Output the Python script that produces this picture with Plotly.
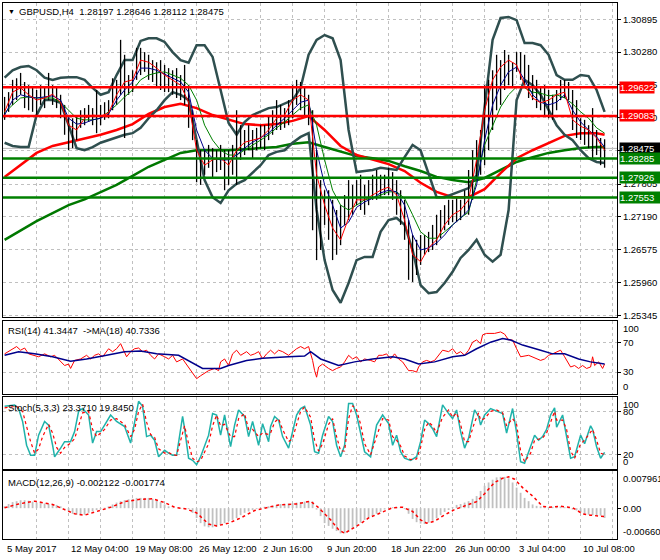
import plotly.graph_objects as go

# ---------------- data ----------------
bar_idx = list(range(0, 301, 2))
bars_hi = [1.2944,1.2953,1.2976,1.2979,1.2989,1.2972,1.2966,1.2961,1.2957,1.2966,
           1.2961,1.2989,1.2966,1.2961,1.2948,1.2929,1.2910,1.2904,1.2910,1.2919,
           1.2923,1.2929,1.2923,1.2957,1.2929,1.2934,1.2938,1.2979,1.2976,1.3051,
           1.3023,1.2985,1.2994,1.3036,1.3036,1.3028,1.3023,1.3013,1.3009,1.3013,
           1.3004,1.2998,1.2994,1.2998,1.2985,1.3004,1.2966,1.2919,1.2863,1.2844,
           1.2844,1.2854,1.2848,1.2844,1.2854,1.2844,1.2844,1.2854,1.2919,1.2891,
           1.2882,1.2891,1.2882,1.2886,1.2891,1.2891,1.2910,1.2919,1.2938,1.2929,
           1.2923,1.2938,1.2966,1.2976,1.2972,1.2961,1.2948,1.2919,1.2844,1.2788,
           1.2769,1.2769,1.2751,1.2732,1.2741,1.2760,1.2788,1.2779,1.2788,1.2798,
           1.2779,1.2788,1.2798,1.2807,1.2798,1.2798,1.2811,1.2803,1.2788,1.2769,
           1.2751,1.2713,1.2685,1.2676,1.2685,1.2685,1.2691,1.2704,1.2723,1.2732,
           1.2741,1.2751,1.2751,1.2754,1.2751,1.2769,1.2807,1.2844,1.2863,1.2882,
           1.2966,1.2976,1.2994,1.3023,1.3013,1.3032,1.3023,1.3009,1.3028,1.3028,
           1.3023,1.3004,1.2985,1.2976,1.2961,1.2966,1.2957,1.2948,1.2957,1.2976,
           1.2976,1.2972,1.2957,1.2938,1.2904,1.2901,1.2891,1.2923,1.2882,1.2867,
           1.28646]
bars_lo = [1.2901,1.2916,1.2929,1.2938,1.2948,1.2923,1.2919,1.2916,1.2910,1.2929,
           1.2923,1.2938,1.2929,1.2923,1.2904,1.2873,1.2844,1.2848,1.2863,1.2886,
           1.2891,1.2897,1.2891,1.2876,1.2891,1.2901,1.2904,1.2919,1.2929,1.2948,
           1.2867,1.2948,1.2953,1.2976,1.2985,1.2991,1.2976,1.2972,1.2961,1.2957,
           1.2953,1.2953,1.2948,1.2942,1.2938,1.2929,1.2886,1.2863,1.2784,1.2779,
           1.2798,1.2811,1.2792,1.2803,1.2807,1.2769,1.2779,1.2798,1.2779,1.2826,
           1.2835,1.2844,1.2829,1.2844,1.2848,1.2844,1.2863,1.2873,1.2882,1.2882,
           1.2886,1.2891,1.2904,1.2929,1.2919,1.2910,1.2891,1.2694,1.2638,1.2657,
           1.2704,1.2676,1.2638,1.2648,1.2666,1.2704,1.2713,1.2723,1.2741,1.2732,
           1.2723,1.2741,1.2751,1.2751,1.2754,1.2760,1.2760,1.2751,1.2723,1.2704,
           1.2676,1.2601,1.2597,1.2610,1.2629,1.2648,1.2653,1.2657,1.2666,1.2679,
           1.2694,1.2704,1.2709,1.2709,1.2713,1.2723,1.2723,1.2751,1.2788,1.2798,
           1.2816,1.2844,1.2882,1.2919,1.2929,1.2957,1.2966,1.2961,1.2991,1.2976,
           1.2966,1.2942,1.2938,1.2923,1.2919,1.2910,1.2904,1.2901,1.2919,1.2938,
           1.2942,1.2938,1.2882,1.2867,1.2863,1.2854,1.2848,1.2829,1.2835,1.2816,
           1.28112]

ma_idx = list(range(0, 301, 4))
ma_fast = [1.2916,1.2953,1.2961,1.2948,1.2938,1.2942,1.2949,1.2934,1.2891,1.2882,
           1.2904,1.2910,1.2908,1.2914,1.2948,1.2972,1.2976,1.3013,1.3009,1.2998,
           1.2985,1.2976,1.2966,1.2934,1.2844,1.2816,1.2826,1.2829,1.2816,1.2844,
           1.2859,1.2863,1.2867,1.2882,1.2904,1.2910,1.2938,1.2948,1.2938,1.2798,
           1.2741,1.2698,1.2676,1.2717,1.2751,1.2751,1.2760,1.2769,1.2775,1.2760,
           1.2713,1.2648,1.2635,1.2661,1.2676,1.2704,1.2723,1.2732,1.2751,1.2826,
           1.2919,1.2976,1.3000,1.3013,1.3004,1.2966,1.2942,1.2933,1.2938,1.2948,
           1.2953,1.2901,1.2889,1.2882,1.2867,1.2844]
ma_mid = [1.2910,1.2938,1.2948,1.2944,1.2942,1.2944,1.2946,1.2938,1.2904,1.2893,
          1.2895,1.2901,1.2904,1.2912,1.2938,1.2957,1.2972,1.2998,1.2998,1.2994,
          1.2987,1.2979,1.2972,1.2953,1.2882,1.2844,1.2829,1.2826,1.2826,1.2835,
          1.2848,1.2859,1.2867,1.2876,1.2891,1.2904,1.2919,1.2934,1.2938,1.2844,
          1.2779,1.2741,1.2698,1.2709,1.2737,1.2747,1.2754,1.2764,1.2769,1.2766,
          1.2741,1.2685,1.2657,1.2661,1.2670,1.2685,1.2704,1.2717,1.2732,1.2779,
          1.2863,1.2929,1.2966,1.2991,1.3000,1.2976,1.2948,1.2934,1.2929,1.2934,
          1.2948,1.2919,1.2897,1.2882,1.2869,1.2850]
ma_slow = [1.2914,1.2929,1.2942,1.2944,1.2942,1.2942,1.2942,1.2934,1.2919,1.2904,
           1.2901,1.2901,1.2904,1.2916,1.2929,1.2944,1.2957,1.2976,1.2985,1.2989,
           1.2991,1.2985,1.2979,1.2966,1.2938,1.2891,1.2863,1.2844,1.2835,1.2835,
           1.2844,1.2854,1.2863,1.2873,1.2886,1.2897,1.2910,1.2923,1.2929,1.2891,
           1.2826,1.2769,1.2741,1.2732,1.2741,1.2751,1.2754,1.2760,1.2766,1.2766,
           1.2754,1.2723,1.2691,1.2679,1.2679,1.2691,1.2704,1.2717,1.2728,1.2788,
           1.2854,1.2891,1.2925,1.2948,1.2963,1.2961,1.2953,1.2951,1.2946,1.2948,
           1.2942,1.2931,1.2916,1.2904,1.2886,1.2876]
band_up = [1.2980,1.2994,1.3000,1.3002,1.2994,1.2980,1.2976,1.2980,1.2981,1.2981,
           1.2976,1.2961,1.2948,1.2953,1.2985,1.3013,1.3013,1.3049,1.3054,1.3054,
           1.3047,1.3028,1.3013,1.3008,1.3041,1.3041,1.3019,1.2957,1.2895,1.2873,
           1.2897,1.2910,1.2916,1.2923,1.2925,1.2931,1.2938,1.2961,1.3023,1.3051,
           1.3060,1.3054,1.3013,1.2882,1.2803,1.2805,1.2807,1.2811,1.2809,1.2807,
           1.2831,1.2854,1.2844,1.2798,1.2756,1.2756,1.2762,1.2768,1.2773,1.2798,
           1.2919,1.3051,1.3092,1.3094,1.3088,1.3045,1.3045,1.3041,1.3023,1.2985,
           1.2976,1.2976,1.2985,1.2983,1.2957,1.2916]
band_dn = [1.2858,1.2852,1.2850,1.2850,1.2910,1.2938,1.2938,1.2933,1.2891,1.2848,
           1.2844,1.2850,1.2858,1.2863,1.2869,1.2873,1.2876,1.2886,1.2904,1.2919,
           1.2938,1.2953,1.2948,1.2938,1.2863,1.2788,1.2756,1.2745,1.2769,1.2781,
           1.2788,1.2803,1.2816,1.2835,1.2841,1.2844,1.2858,1.2869,1.2876,1.2732,
           1.2638,1.2582,1.2558,1.2595,1.2638,1.2644,1.2644,1.2691,1.2713,1.2717,
           1.2704,1.2657,1.2591,1.2576,1.2578,1.2595,1.2616,1.2642,1.2657,1.2676,
           1.2648,1.2635,1.2648,1.2732,1.2938,1.2976,1.2966,1.2948,1.2919,1.2891,
           1.2873,1.2863,1.2844,1.2829,1.2822,1.2820]

long_idx = list(range(0, 297, 8)) + [300]
ma100 = [1.2794,1.2816,1.2839,1.2852,1.2859,1.2867,1.2873,1.2882,1.2893,1.2912,
         1.2925,1.2931,1.2923,1.2910,1.2901,1.2893,1.2891,1.2893,1.2899,1.2908,
         1.2882,1.2852,1.2835,1.2826,1.2818,1.2805,1.2783,1.2766,1.2756,1.2756,
         1.2771,1.2801,1.2829,1.2844,1.2857,1.2871,1.2876,1.2876,1.2873]
ma200 = [1.2676,1.2693,1.2711,1.2726,1.2741,1.2752,1.2766,1.2779,1.2796,1.2813,
         1.2826,1.2839,1.2844,1.2844,1.2844,1.2846,1.2848,1.2850,1.2856,1.2859,
         1.2850,1.2841,1.2833,1.2829,1.2824,1.2814,1.2805,1.2794,1.2788,1.2784,
         1.2792,1.2807,1.2822,1.2831,1.2839,1.2844,1.2848,1.2850,1.2850]

red_levels = [1.29622, 1.29083]
green_levels = [1.28285, 1.27926, 1.27553]
bid = 1.28475

price_ticks = [1.30895, 1.30280, 1.29665, 1.29050, 1.28435, 1.27805, 1.27190, 1.26575, 1.25960, 1.25345]

rsi_i = [0,3,6,8,10,12,14,17,20,23,25,28,30,32,33,35,38,41,43,45,
         47,49,52,54,56,58,61,63,65,67,69,71,73,75,77,80,82,84,86,89,
         92,94,96,98,102,105,107,108,110,112,114,116,118,121,123,125,127,129,131,133,
         135,137,139,142,144,146,148,150,152,154,155,156,157,159,162,164,166,168,170,172,
         174,176,178,180,183,185,187,189,191,193,195,197,199,202,204,206,207,209,211,213,
         215,217,219,222,224,226,228,230,232,234,236,238,239,241,245,248,250,252,254,256,
         258,262,264,266,268,270,272,274,276,278,280,283,285,287,289,291,293,294,295,297,
         299,300]
rsi_v = [55,60,65,60,63,55,53,51,55,51,53,44,39,41,35,46,48,53,48,53,
         55,51,62,58,62,69,51,58,62,63,58,60,53,48,55,51,48,53,44,48,
         37,28,21,25,32,35,32,44,48,39,55,60,53,58,53,55,58,48,55,60,
         55,60,58,53,58,62,65,62,65,46,32,23,37,41,35,32,35,37,44,53,
         48,51,44,48,46,44,53,53,55,48,55,48,44,32,32,30,37,44,46,44,
         46,53,60,58,62,55,58,53,60,71,74,69,81,83,83,85,82,74,74,62,
         51,53,51,48,46,48,53,55,58,60,51,37,39,35,39,35,37,51,39,44,
         35,41]
rsima_i = [0,7,15,24,33,41,51,60,68,76,87,93,99,108,112,121,129,142,150,153,
           158,167,175,184,194,200,207,215,224,230,236,243,249,253,259,268,274,280,287,293,300]
rsima_v = [53,58,55,51,45,48,53,58,59,55,53,44,35,35,39,46,49,51,52,58,
           48,39,44,48,51,48,41,44,51,53,62,71,76,74,67,60,55,55,48,44,41]

st_i = [0,5,7,9,11,13,15,17,20,22,24,25,28,30,33,35,37,39,42,44,
        46,48,50,53,56,60,63,65,67,69,71,73,75,77,80,82,84,86,89,90,
        92,94,96,98,102,104,106,108,110,113,115,117,120,122,124,127,129,132,133,135,
        137,139,142,144,146,148,150,153,155,157,159,162,164,166,168,170,172,174,176,178,
        180,183,186,189,192,194,196,198,200,203,206,208,210,212,214,216,219,222,224,226,
        228,230,232,235,237,238,240,243,246,249,251,254,256,258,260,263,265,267,269,271,
        273,275,276,279,281,283,285,288,290,293,294,296,298,300]
st_v = [87,89,84,66,33,19,19,47,66,61,33,17,29,38,38,52,80,84,75,36,
        52,52,61,75,66,59,36,66,94,87,45,47,40,17,26,22,19,19,73,56,
        15,12,6,17,47,77,75,47,75,31,61,82,73,45,66,33,63,38,59,73,
        68,45,29,52,75,84,87,61,24,22,47,73,66,33,17,33,91,91,75,50,
        24,17,61,75,63,33,47,24,15,12,17,38,68,63,56,45,89,77,70,82,
        52,29,43,82,73,61,75,84,80,77,50,84,50,10,8,33,47,40,45,55,
        75,85,58,75,45,15,17,47,35,60,55,31,15,23]
sg_i = [0,6,9,11,13,15,17,19,22,24,26,28,30,33,35,37,39,42,44,46,
        48,50,53,56,60,63,65,67,69,71,73,75,77,80,82,84,86,89,90,92,
        94,96,98,102,104,106,108,110,113,115,117,120,122,124,127,129,132,133,135,137,
        139,142,144,146,148,150,153,155,157,159,162,164,166,168,170,172,174,176,178,180,
        183,186,189,192,194,196,198,200,203,206,208,210,212,214,216,219,222,224,226,228,
        230,232,235,237,238,240,243,246,249,251,254,256,258,260,263,265,267,269,271,273,
        275,276,279,281,283,285,288,290,293,294,296,298,300]
sg_v = [85,87,80,60,38,22,28,45,62,50,30,22,30,36,42,60,78,80,55,45,
        50,55,68,70,62,45,55,80,90,65,48,44,28,22,23,20,19,50,60,35,
        15,10,12,35,60,75,60,62,45,45,70,77,55,55,45,50,48,50,65,70,
        55,38,42,62,80,86,72,40,25,35,62,70,45,25,25,70,88,82,62,35,
        20,45,70,68,45,40,32,18,13,14,30,55,65,60,50,72,82,72,78,62,
        38,38,65,78,68,70,80,82,78,60,70,62,25,10,22,40,42,43,50,65,
        80,68,68,55,25,15,35,40,52,55,40,22,20]

macd_hist = [0.0004,0.0009,0.0013,0.0015,0.0017,0.0017,0.0016,0.0014,0.0012,0.0011,
             0.0010,0.0009,0.0008,0.0007,0.0004,-0.0001,-0.0007,-0.0012,-0.0014,-0.0015,
             -0.0014,-0.0010,-0.0007,-0.0004,-0.0002,0.0001,0.0004,0.0008,0.0012,0.0015,
             0.0017,0.0019,0.0020,0.0022,0.0022,0.0022,0.0022,0.0020,0.0017,0.0013,
             0.0008,0.0004,0.0001,0.0000,-0.0001,-0.0002,-0.0002,-0.0010,-0.0021,-0.0032,
             -0.0039,-0.0041,-0.0041,-0.0039,-0.0036,-0.0032,-0.0028,-0.0025,-0.0021,-0.0015,
             -0.0010,-0.0007,-0.0004,-0.0002,0.0001,0.0003,0.0004,0.0005,0.0007,0.0009,
             0.0009,0.0010,0.0011,0.0012,0.0013,0.0014,0.0015,0.0014,-0.0003,-0.0017,
             -0.0032,-0.0038,-0.0044,-0.0049,-0.0054,-0.0054,-0.0050,-0.0043,-0.0037,-0.0031,
             -0.0025,-0.0021,-0.0017,-0.0012,-0.0008,-0.0003,0.0000,0.0002,0.0002,0.0002,
             -0.0002,-0.0012,-0.0023,-0.0030,-0.0033,-0.0034,-0.0031,-0.0027,-0.0022,-0.0015,
             -0.0008,-0.0004,0.0002,0.0007,0.0009,0.0012,0.0015,0.0020,0.0026,0.0037,
             0.0048,0.0055,0.0061,0.0066,0.0067,0.0067,0.0064,0.0055,0.0044,0.0033,
             0.0022,0.0015,0.0008,0.0005,0.0004,0.0002,0.0002,0.0003,0.0004,0.0004,
             0.0002,-0.0001,-0.0003,-0.0005,-0.0009,-0.0012,-0.0014,-0.0015,-0.0015,-0.0016,
             -0.0021]
ms_i = [0,7,15,24,30,35,40,44,49,53,60,68,74,80,85,91,96,102,106,112,
        118,125,131,137,146,153,157,163,167,170,173,177,182,188,194,199,204,208,211,215,
        219,225,230,236,240,245,249,252,255,259,264,269,272,278,284,289,293,297,300]
ms_v = [0.0001,0.0009,0.0015,0.0008,-0.0003,-0.0012,-0.0015,-0.0010,-0.0003,0.0002,
        0.0014,0.0019,0.0020,0.0012,0.0002,-0.0002,-0.0010,-0.0034,-0.0038,-0.0032,
        -0.0021,-0.0005,0.0001,0.0007,0.0009,0.0015,0.0001,-0.0025,-0.0046,-0.0054,
        -0.0046,-0.0036,-0.0021,-0.0010,0.0001,0.0002,-0.0007,-0.0025,-0.0032,-0.0028,
        -0.0017,-0.0003,0.0004,0.0014,0.0031,0.0055,0.0064,0.0067,0.0062,0.0044,
        0.0026,0.0004,0.0002,0.0004,0.0001,-0.0012,-0.0015,-0.0017,-0.0018]

date_idx = [0, 32, 64, 96, 128, 160, 192, 224, 256, 288]
date_lbl = ['5 May 2017', '12 May 04:00', '19 May 08:00', '26 May 12:00', '2 Jun 16:00',
            '9 Jun 20:00', '18 Jun 22:00', '26 Jun 00:00', '3 Jul 04:00', '10 Jul 08:00']
grid_idx = list(range(16, 305, 16))

# ---------------- figure ----------------
W, H = 660, 560
FONT = 'Liberation Sans, Arial, sans-serif'
FS = 9.5
SLATE = '#2F4F4F'
GRID = '#C0C0C0'
XR = [-0.8, 306.2]
DOMX = [3 / W, 617 / W]

def ydom(top, bot):
    return [1 - bot / H, 1 - top / H]

fig = go.Figure()

def add(x, y, color, width, ax='', dash=None):
    fig.add_trace(go.Scatter(x=x, y=y, mode='lines',
                             line=dict(color=color, width=width, dash=dash),
                             xaxis='x' + ax, yaxis='y' + ax, hoverinfo='skip'))

# main pane
add(long_idx, ma200, '#007800', 2.5)
add(long_idx, ma100, '#FF0000', 2.5)
add(ma_idx, band_up, SLATE, 2.5)
add(ma_idx, band_dn, SLATE, 2.5)
bx, by = [], []
for i, h, l in zip(bar_idx, bars_hi, bars_lo):
    bx += [i, i, None]
    by += [l, h, None]
add(bx, by, '#000000', 1.3)
add(ma_idx, ma_slow, '#008000', 1)
add(ma_idx, ma_mid, '#00008B', 1)
add(ma_idx, ma_fast, '#FF0000', 1)

# RSI
add(rsi_i, rsi_v, '#FF0000', 1, '2')
add(rsima_i, rsima_v, '#00008B', 1.5, '2')
# Stochastic
add(st_i, st_v, '#20B2AA', 1.5, '3')
add(sg_i, sg_v, '#FF0000', 1.2, '3', 'dot')
# MACD
fig.add_trace(go.Bar(x=bar_idx, y=macd_hist, width=0.9, marker=dict(color='#C0C0C0', line=dict(width=0)),
                     xaxis='x4', yaxis='y4', hoverinfo='skip'))
add(ms_i, ms_v, '#FF0000', 1.5, '4', 'dot')

shapes = []
shapes.append(dict(type='line', xref='x domain', x0=0, x1=1, yref='y', y0=bid, y1=bid,
                   line=dict(color='#B4B4B4', width=1), layer='below'))
for v in red_levels:
    shapes.append(dict(type='line', xref='x domain', x0=0, x1=1, yref='y', y0=v, y1=v,
                       line=dict(color='#FF0000', width=2.5), layer='above'))
for v in green_levels:
    shapes.append(dict(type='line', xref='x domain', x0=0, x1=1, yref='y', y0=v, y1=v,
                       line=dict(color='#008000', width=2.5), layer='above'))

ann = []
def txt(x, y, s, size=FS, color='black', xanchor='left', yanchor='middle', yref='paper', xref='paper', **kw):
    ann.append(dict(x=x, y=y, xref=xref, yref=yref, text=s, showarrow=False,
                    xanchor=xanchor, yanchor=yanchor, font=dict(family=FONT, size=size, color=color), **kw))

txt(6 / W, 1 - 11 / H, '▼', size=7)
txt(17 / W, 1 - 11 / H, 'GBPUSD,H4&nbsp;&nbsp;1.28197 1.28646 1.28112 1.28475')
txt(6 / W, 1 - 330 / H, 'RSI(14) 41.3447&nbsp;&nbsp;->MA(18) 40.7336')
txt(6 / W, 1 - 407 / H, 'Stoch(5,3,3) 23.3710 19.8450')
txt(6 / W, 1 - 482 / H, 'MACD(12,26,9) -0.002122 -0.001774')

for v in red_levels:
    txt(619 / W, v, '%.5f' % v, color='white', yref='y', bgcolor='#FF0000', borderpad=0)
txt(619 / W, bid, '%.5f' % bid, color='white', yref='y', bgcolor='#000000', borderpad=0, width=41, align='left')
for v in green_levels:
    txt(619 / W, v, '%.5f' % v, color='white', yref='y', bgcolor='#008000', borderpad=0, width=41, align='left')

LX = 621 / W
txt(LX, 100, '100', yref='y2', yanchor='top')
txt(LX, 0, '0', yref='y2', yanchor='bottom')
txt(LX, 100, '100', yref='y3', yanchor='top')
txt(LX, 0, '0', yref='y3', yanchor='bottom')
txt(LX, 0.007961, '0.007961', yref='y4', yanchor='top')
txt(LX, -0.006601, '-0.006601', yref='y4', yanchor='bottom')

for i, s in zip(date_idx, date_lbl):
    txt(i, 1 - 548 / H, s, xref='x4')

axis_common = dict(showline=True, mirror=True, linecolor='black', linewidth=1, zeroline=False,
                   tickfont=dict(family=FONT, size=FS, color='black'))

layout = dict(width=W, height=H, margin=dict(l=0, r=0, t=0, b=0, autoexpand=False), showlegend=False,
              paper_bgcolor='white', plot_bgcolor='white', hovermode=False,
              shapes=shapes, annotations=ann, font=dict(family=FONT, size=FS, color='black'))

panes = [('', 3, 317), ('2', 321, 394), ('3', 397, 469), ('4', 471, 539)]
for ax, top, bot in panes:
    xa = dict(axis_common, tickmode='array', tickvals=grid_idx, showgrid=True, gridcolor=GRID,
              griddash='3px,3px', gridwidth=1, showticklabels=False, ticks='',
              range=XR, domain=DOMX, fixedrange=True, anchor='y' + ax, automargin=False)
    if ax:
        xa['matches'] = 'x'
    layout['xaxis' + ax] = xa

ycommon = dict(axis_common, side='right', ticks='outside', ticklen=3, tickcolor='black',
               showgrid=True, gridcolor=GRID, griddash='3px,3px', gridwidth=1, fixedrange=True,
               automargin=False)
layout['yaxis'] = dict(ycommon, domain=ydom(3, 317), anchor='x', range=[1.25313, 1.31201],
                       tickmode='array', tickvals=price_ticks, ticktext=['%.5f' % v for v in price_ticks])
layout['yaxis2'] = dict(ycommon, domain=ydom(321, 394), anchor='x2', range=[0, 100],
                        tickmode='array', tickvals=[30, 70], ticktext=['30', '70'])
layout['yaxis3'] = dict(ycommon, domain=ydom(397, 469), anchor='x3', range=[0, 100],
                        tickmode='array', tickvals=[20, 80], ticktext=['20', '80'])
layout['yaxis4'] = dict(ycommon, domain=ydom(471, 539), anchor='x4', range=[-0.006601, 0.007961],
                        tickmode='array', tickvals=[0], ticktext=['0.00'], showgrid=False)

fig.update_layout(**layout)
fig.write_html('out.html', config={'displayModeBar': False, 'staticPlot': True},
               post_script="document.body.style.margin='0';document.body.style.overflow='hidden';")
